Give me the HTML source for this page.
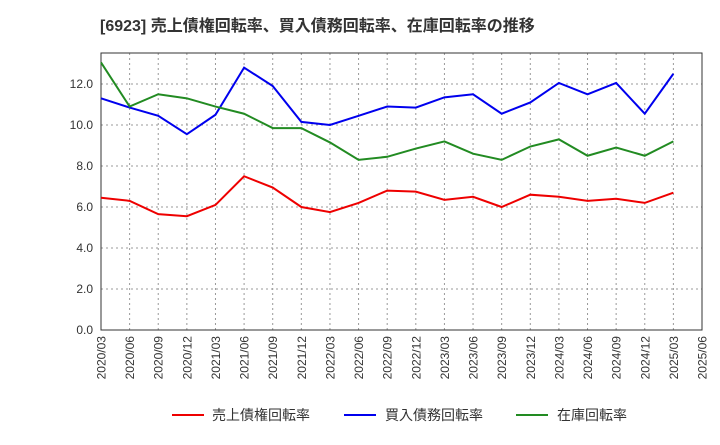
<!DOCTYPE html>
<html><head><meta charset="utf-8"><style>
body{margin:0;background:#fff;font-family:"Liberation Sans","Noto Sans CJK JP",sans-serif;}
svg text{font-family:"Liberation Sans","Noto Sans CJK JP",sans-serif;}
</style></head><body>
<svg id="c" width="720" height="440" xmlns="http://www.w3.org/2000/svg">
<text x="100" y="31" font-size="16" font-weight="bold" fill="#333">[6923]  売上債権回転率、買入債務回転率、在庫回転率の推移</text>
<g id="grid"></g><g id="axes"></g><g id="series"></g>
<g>
<line x1="172" y1="415" x2="204" y2="415" stroke="#e00" stroke-width="2"/>
<text x="212" y="420" font-size="14" fill="#333">売上債権回転率</text>
<line x1="344" y1="415" x2="376" y2="415" stroke="#00e" stroke-width="2"/>
<text x="385" y="420" font-size="14" fill="#333">買入債務回転率</text>
<line x1="516" y1="415" x2="548" y2="415" stroke="#228b22" stroke-width="2"/>
<text x="557" y="420" font-size="14" fill="#333">在庫回転率</text>
</g>
</svg>
<script>
const categories=["2020/03","2020/06","2020/09","2020/12","2021/03","2021/06","2021/09","2021/12","2022/03","2022/06","2022/09","2022/12","2023/03","2023/06","2023/09","2023/12","2024/03","2024/06","2024/09","2024/12","2025/03","2025/06"];
const receivables=[6.45,6.3,5.65,5.55,6.1,7.5,6.95,6.0,5.75,6.2,6.8,6.75,6.35,6.5,6.0,6.6,6.5,6.3,6.4,6.2,6.7];
const payables=[11.3,10.85,10.45,9.55,10.5,12.8,11.9,10.15,10.0,10.45,10.9,10.85,11.35,11.5,10.55,11.1,12.05,11.5,12.05,10.55,12.5];
const inventory=[13.05,10.9,11.5,11.3,10.9,10.55,9.85,9.85,9.15,8.3,8.45,8.85,9.2,8.6,8.3,8.95,9.3,8.5,8.9,8.5,9.2];
const yTicks=[0,2,4,6,8,10,12];
const L=101,R=702,T=53,B=330,yMax=(B-T)/20.5;
const xs=i=>L+i*(R-L)/(categories.length-1);
const ys=v=>B-v*(B-T)/yMax;
const NS="http://www.w3.org/2000/svg";
function mk(tag,attrs,parent){const e=document.createElementNS(NS,tag);for(const k in attrs)e.setAttribute(k,attrs[k]);parent.appendChild(e);return e;}
const grid=document.getElementById('grid'),axes=document.getElementById('axes'),ser=document.getElementById('series');
categories.forEach((c,i)=>{
  if(i>0&&i<categories.length-1){const g=mk('line',{x1:xs(i),x2:xs(i),y1:T,y2:B,stroke:'#999','stroke-dasharray':'2,3'},grid);
  
  }
  const t=mk('text',{x:0,y:0,'font-size':12,fill:'#333','text-anchor':'end',transform:`translate(${xs(i)+4.5},${B+6}) rotate(-90)`},axes);
  t.textContent=c;
  
  
});
yTicks.forEach(v=>{
  if(v>0){const g=mk('line',{x1:L,x2:R,y1:ys(v),y2:ys(v),stroke:'#999','stroke-dasharray':'2,3'},grid);
  
  }
  const t=mk('text',{x:L-8,y:ys(v)+4,'font-size':12,fill:'#333','text-anchor':'end'},axes);
  t.textContent=v.toFixed(1);
  
  
});
const frame=mk('rect',{x:L,y:T,width:R-L,height:B-T,fill:'none',stroke:'#333','stroke-width':1},axes);


[[receivables,'#e00','receivables-line'],[payables,'#00e','payables-line'],[inventory,'#228b22','inventory-line']].forEach(([d,col,n])=>{
  const p=mk('polyline',{points:d.map((v,i)=>xs(i)+','+ys(v)).join(' '),fill:'none',stroke:col,'stroke-width':2},ser);
  
  
});
</script>
</body></html>
